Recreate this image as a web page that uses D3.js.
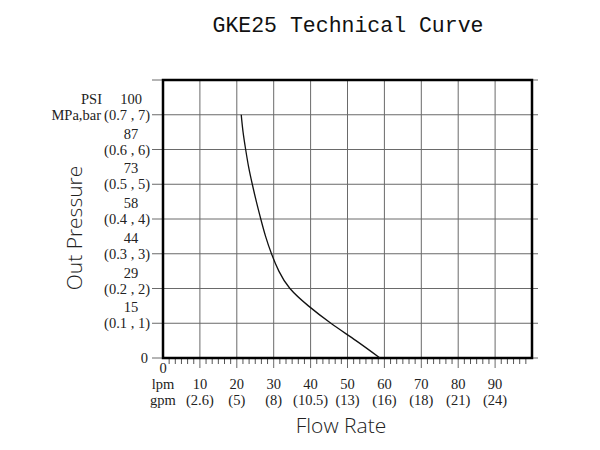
<!DOCTYPE html>
<html>
<head>
<meta charset="utf-8">
<script src="https://cdn.jsdelivr.net/npm/d3@7"></script>
<style>
  body { margin: 0; background: #fff; }
  .tick-label { font-family: "Liberation Serif", serif; font-size: 14.5px; fill: #222; }
  .grid { stroke: #6a6a6a; stroke-width: 1; }
</style>
</head>
<body>
<div id="chart"></div>
<script>
// data
var lpmTicks = [10, 20, 30, 40, 50, 60, 70, 80, 90];
var gpmLabels = ["(2.6)", "(5)", "(8)", "(10.5)", "(13)", "(16)", "(18)", "(21)", "(24)"];
var barTicks = [1, 2, 3, 4, 5, 6, 7];
var psiLabels = ["15", "29", "44", "58", "73", "87", "100"];
var mpaLabels = ["(0.1 , 1)", "(0.2 , 2)", "(0.3 , 3)", "(0.4 , 4)", "(0.5 , 5)", "(0.6 , 6)", "(0.7 , 7)"];

// curve (flow in lpm, pressure in bar)
var flowLpm     = [21.2, 21.7, 22.4, 23.2, 24.2, 25.3, 26.5, 27.8, 29.4, 31.4, 34.4, 39.4, 45.5, 52.3, 58.8];
var pressureBar = [7,    6.5,  6,    5.5,  5,    4.5,  4,    3.5,  3,    2.5,  2,    1.5,  1,    0.5,  0];

var curve = flowLpm.map(function(f, i) { return {flow: f, p: pressureBar[i]}; });

// plot frame (window.top is taken, so own names)
var W = 600, H = 450;
var frame = {left: 163, right: 532, top: 80, bottom: 358};

var xScale = d3.scaleLinear().domain([0, 100]).range([frame.left, frame.right]);
var yScale = d3.scaleLinear().domain([0, 8]).range([frame.bottom, frame.top]);

var svg = d3.select("#chart").append("svg")
  .attr("width", W)
  .attr("height", H);

// title
svg.append("text")
  .attr("x", 348)
  .attr("y", 32)
  .attr("text-anchor", "middle")
  .style("font-family", "'Liberation Mono', monospace")
  .style("font-size", "21.5px")
  .style("fill", "#111")
  .text("GKE25 Technical Curve");

// horizontal grid lines, poking out on both sides as ticks
svg.selectAll(".hgrid")
  .data(d3.range(0, 9))
.enter().append("line")
  .attr("class", "grid")
  .attr("x1", frame.left - 11)
  .attr("x2", frame.right + 6)
  .attr("y1", function(d) { return yScale(d); })
  .attr("y2", function(d) { return yScale(d); });

// vertical grid lines, running a bit below the frame
svg.selectAll(".vgrid")
  .data(lpmTicks)
.enter().append("line")
  .attr("class", "grid")
  .attr("x1", function(d) { return xScale(d); })
  .attr("x2", function(d) { return xScale(d); })
  .attr("y1", frame.top)
  .attr("y2", frame.bottom + 10);

// minor ticks under the bottom edge (6 steps per 10 lpm)
var minor = d3.range(0, 60).map(function(i) { return i * 10 / 6; })
  .filter(function(v, i) { return i % 6 !== 0; });
svg.selectAll(".minor")
  .data(minor)
.enter().append("line")
  .attr("stroke", "#555")
  .attr("stroke-width", 1)
  .attr("x1", function(d) { return xScale(d); })
  .attr("x2", function(d) { return xScale(d); })
  .attr("y1", frame.bottom)
  .attr("y2", frame.bottom + 6);

// frame
svg.append("rect")
  .attr("x", frame.left)
  .attr("y", frame.top)
  .attr("width", frame.right - frame.left)
  .attr("height", frame.bottom - frame.top)
  .attr("fill", "none")
  .attr("stroke", "#000")
  .attr("stroke-width", 2.5);

// the curve
var line = d3.line()
  .x(function(d) { return xScale(d.flow); })
  .y(function(d) { return yScale(d.p); })
  .curve(d3.curveNatural);

svg.append("path")
  .datum(curve)
  .attr("fill", "none")
  .attr("stroke", "#111")
  .attr("stroke-width", 1.3)
  .attr("d", line);

// y labels: psi above, (MPa , bar) on the tick
svg.selectAll(".psi")
  .data(barTicks)
.enter().append("text")
  .attr("class", "tick-label")
  .attr("x", 131)
  .attr("y", function(d) { return yScale(d) - 11; })
  .attr("text-anchor", "middle")
  .text(function(d, i) { return psiLabels[i]; });

svg.selectAll(".mpa")
  .data(barTicks)
.enter().append("text")
  .attr("class", "tick-label")
  .attr("x", 150)
  .attr("y", function(d) { return yScale(d) + 5; })
  .attr("text-anchor", "end")
  .text(function(d, i) { return mpaLabels[i]; });

svg.append("text")
  .attr("class", "tick-label")
  .attr("x", 148)
  .attr("y", yScale(0) + 5)
  .attr("text-anchor", "end")
  .text("0");

svg.append("text")
  .attr("class", "tick-label")
  .attr("x", 102)
  .attr("y", yScale(7) - 11)
  .attr("text-anchor", "end")
  .text("PSI");

svg.append("text")
  .attr("class", "tick-label")
  .attr("x", 101)
  .attr("y", yScale(7) + 5)
  .attr("text-anchor", "end")
  .text("MPa,bar");

// x labels: lpm on top, gpm below
svg.append("text")
  .attr("class", "tick-label")
  .attr("x", xScale(0))
  .attr("y", 373)
  .attr("text-anchor", "middle")
  .text("0");

svg.append("text")
  .attr("class", "tick-label")
  .attr("x", xScale(0))
  .attr("y", 389)
  .attr("text-anchor", "middle")
  .text("lpm");

svg.append("text")
  .attr("class", "tick-label")
  .attr("x", xScale(0))
  .attr("y", 405)
  .attr("text-anchor", "middle")
  .text("gpm");

svg.selectAll(".lpm")
  .data(lpmTicks)
.enter().append("text")
  .attr("class", "tick-label")
  .attr("x", function(d) { return xScale(d); })
  .attr("y", 389)
  .attr("text-anchor", "middle")
  .text(function(d) { return d; });

svg.selectAll(".gpm")
  .data(lpmTicks)
.enter().append("text")
  .attr("class", "tick-label")
  .attr("x", function(d) { return xScale(d); })
  .attr("y", 405)
  .attr("text-anchor", "middle")
  .text(function(d, i) { return gpmLabels[i]; });

// axis titles
svg.append("text")
  .attr("transform", "translate(82,228) rotate(-90)")
  .attr("text-anchor", "middle")
  .style("font-family", "'Open Sans', sans-serif")
  .style("font-weight", 300)
  .style("font-size", "21px")
  .style("fill", "#222")
  .text("Out Pressure");

svg.append("text")
  .attr("x", 341)
  .attr("y", 433)
  .attr("text-anchor", "middle")
  .style("font-family", "'Open Sans', sans-serif")
  .style("font-weight", 300)
  .style("font-size", "21px")
  .style("fill", "#222")
  .text("Flow Rate");
</script>
</body>
</html>
